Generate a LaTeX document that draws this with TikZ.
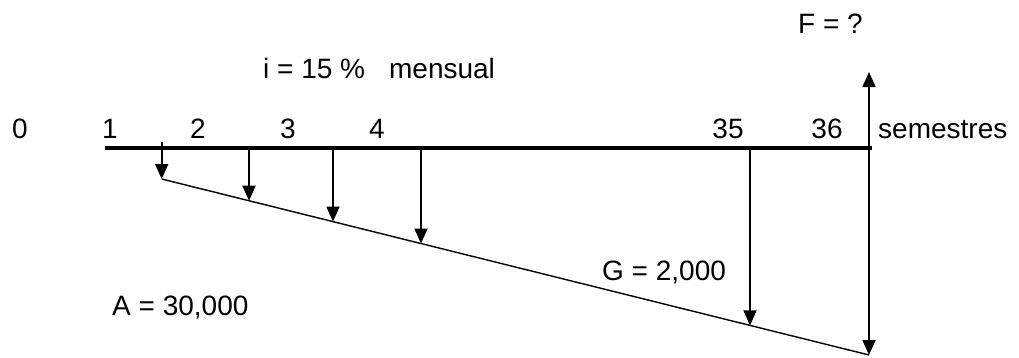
\documentclass[tikz,border=0pt]{standalone}
\usepackage{fontspec}
\setmainfont{Liberation Sans}
\usetikzlibrary{arrows.meta, positioning, calc}

\begin{document}
\begin{tikzpicture}[
        x=1pt, y=-1pt,
        every node/.style={font=\fontsize{28}{32}\selectfont, inner sep=0pt},
        period/.style={anchor=base},
        label/.style={anchor=base west},
        timeline/.style={line width=4pt},
        flow/.style={-{Triangle[length=15pt, width=13pt]}, line width=1.8pt},
        gradient/.style={line width=1.4pt}
    ]
        \useasboundingbox (0,0) rectangle (1019,357);

        \coordinate (start) at (105,148);
        \coordinate (end) at (872,148);
        \coordinate (gtop) at (161.7,179);
        \coordinate (gbottom) at (869,355);

        \node[period] (p0) at (20,138) {0};
        \node[period] (p1) at (110,138) {1};
        \node[period] (p2) at (198,138) {2};
        \node[period] (p3) at (288,138) {3};
        \node[period] (p4) at (377,138) {4};
        \node[period] (p35) at (728,138) {35};
        \node[period] (p36) at (827,138) {36};
        \node[label] (unit) at (878,138) {semestres};

        \node[label] (rate) at (263,78) {i = 15 \%\hspace{24pt}mensual};
        \node[label] (future) at (798,33) {F = ?};
        \node[label] (grad) at (602,280) {G = 2,000};
        \node[label] (annuity) at (112,315) {A = 30,000};

        \draw[timeline] (start) -- (end);
        \draw[gradient] (gtop) -- (gbottom);

        \draw[flow] (161.7,142) -- (gtop);
        \foreach \x/\name in {249/d2, 333/d3, 421/d4, 750/d35} {
            \coordinate (\name) at ($(gtop)!{(\x-161.7)/707.3}!(gbottom)$);
            \draw[flow] (\x,148) -- (\name);
        }
        \coordinate (base) at (869,148);
        \coordinate (ftop) at (869,72);
        \draw[flow] (base) -- (gbottom);
        \draw[flow] (base) -- (ftop);
\end{tikzpicture}
\end{document}
